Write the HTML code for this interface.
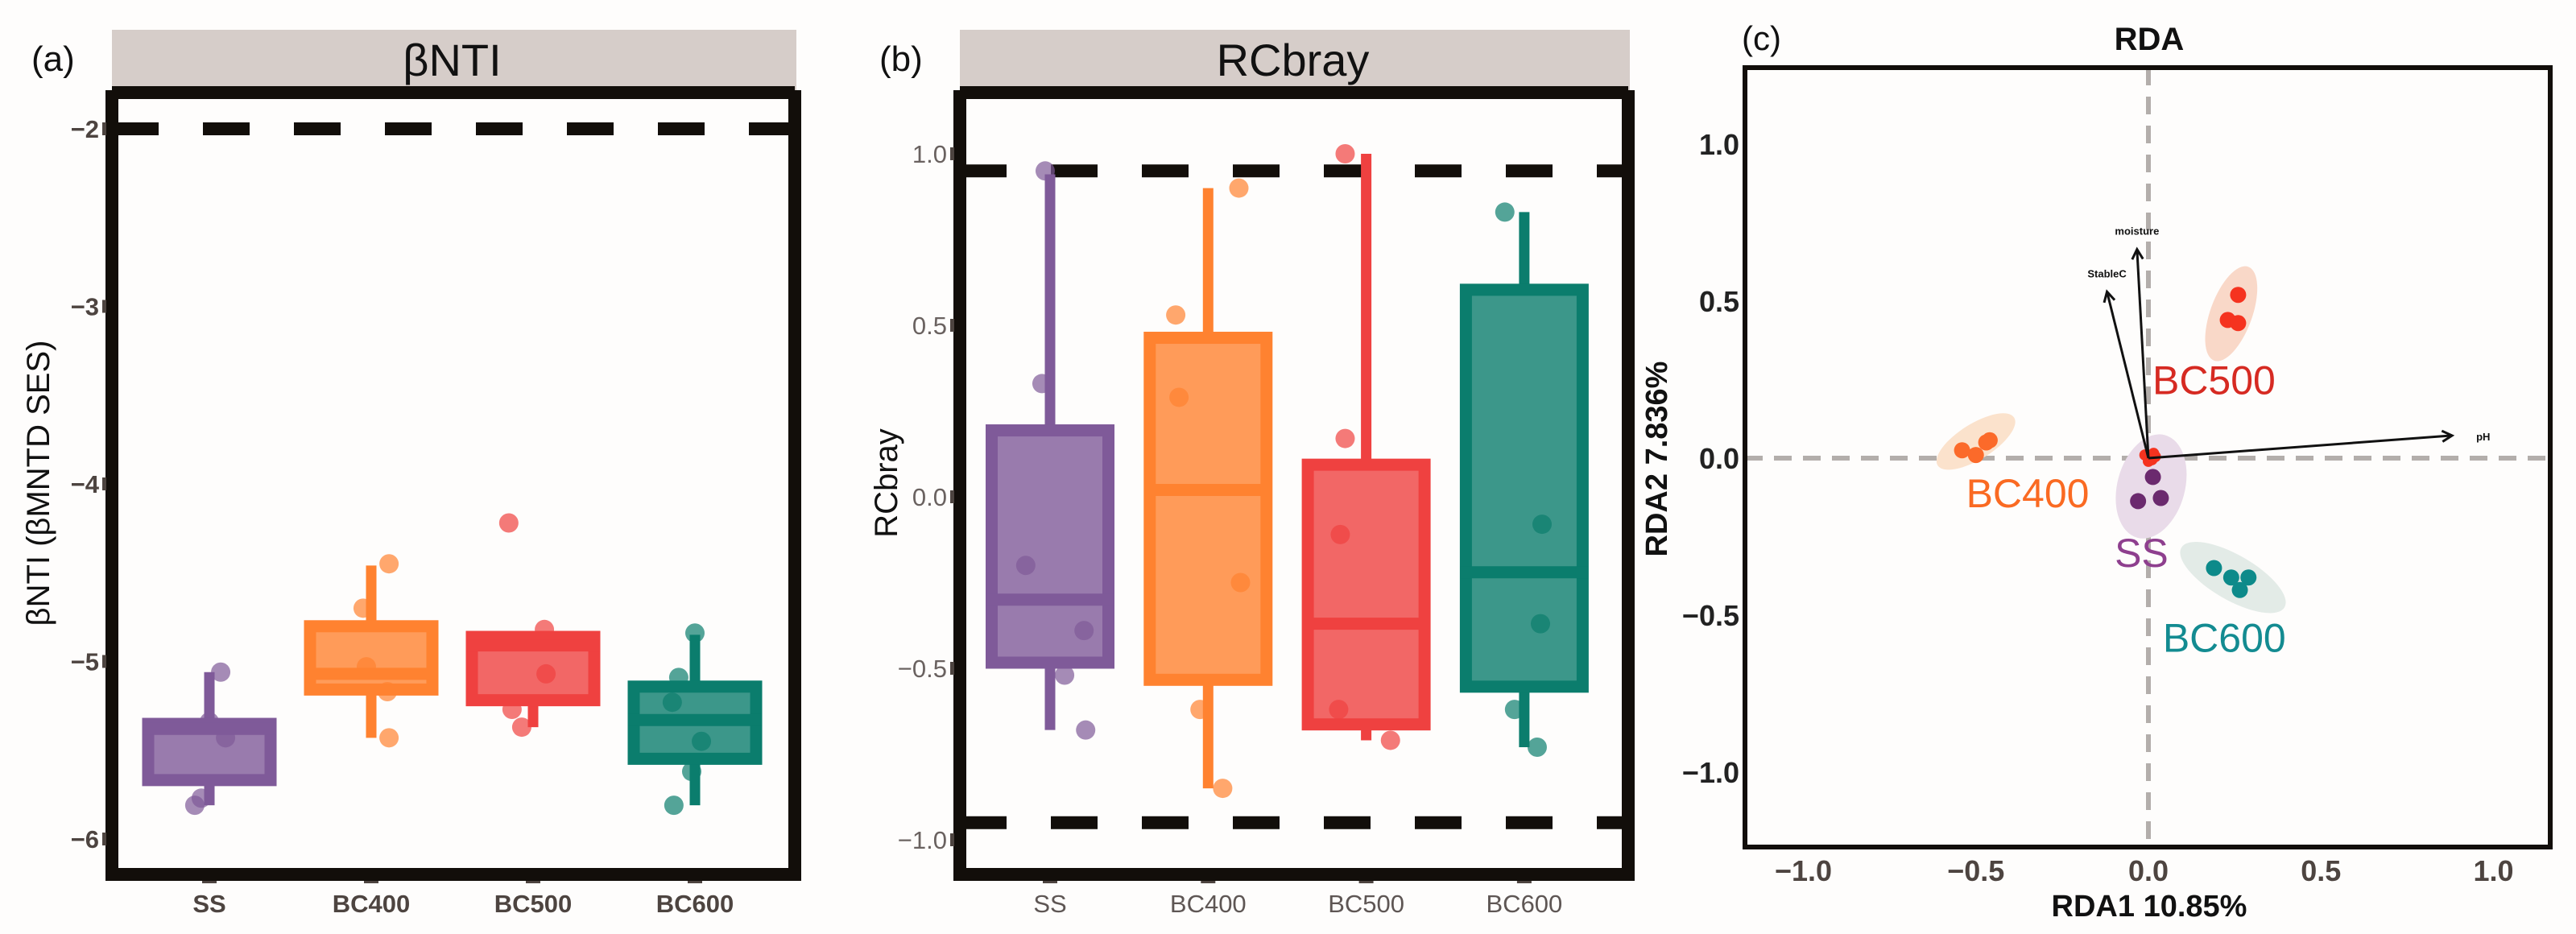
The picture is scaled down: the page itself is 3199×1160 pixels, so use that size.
<!DOCTYPE html>
<html><head><meta charset="utf-8"><style>
html,body{margin:0;padding:0;background:#fefdfc;}
svg{display:block;font-family:"Liberation Sans",Arial,sans-serif;}
</style></head><body>
<svg id="fig" width="3199" height="1160" viewBox="0 0 3199 1160" xmlns="http://www.w3.org/2000/svg">
<rect x="0" y="0" width="3199" height="1160" fill="#fefdfc"/>
<g id="pa"></g>
<g id="pb"></g>
<g id="pc"></g>
</svg>
<script>
// ---- Panel (a) data: betaNTI ----
const catsA = ["SS","BC400","BC500","BC600"];
const q1A = [-5.70,-5.19,-5.25,-5.58];
const medA = [-5.38,-5.07,-4.91,-5.33];
const q3A = [-5.32,-4.77,-4.83,-5.11];
const loA = [-5.81,-5.43,-5.37,-5.81];
const hiA = [-5.06,-4.46,-4.83,-4.85];
const ptsA = [[-5.06,-5.34,-5.43,-5.77,-5.81],[-4.45,-4.70,-5.03,-5.17,-5.43],[-4.22,-4.82,-5.07,-5.27,-5.37],[-4.84,-5.09,-5.23,-5.45,-5.62,-5.81]];
const jitA = [[0.07,0.0,0.1,-0.05,-0.09],[0.11,-0.05,-0.03,0.1,0.11],[-0.15,0.07,0.08,-0.13,-0.07],[0.0,-0.1,-0.14,0.04,-0.02,-0.13]];
const ticksA = [-2,-3,-4,-5,-6];
const tickLabA = ["\u22122","\u22123","\u22124","\u22125","\u22126"];
// ---- Panel (b) data: RCbray ----
const catsB = ["SS","BC400","BC500","BC600"];
const q1B = [-0.50,-0.55,-0.68,-0.57];
const medB = [-0.30,0.02,-0.37,-0.22];
const q3B = [0.21,0.48,0.11,0.62];
const loB = [-0.68,-0.85,-0.71,-0.73];
const hiB = [0.94,0.90,1.00,0.83];
const ptsB = [[0.95,0.33,-0.20,-0.39,-0.52,-0.68],[0.90,0.53,0.29,-0.25,-0.62,-0.85],[1.00,0.17,-0.11,-0.62,-0.71],[0.83,-0.08,-0.37,-0.62,-0.73]];
const jitB = [[-0.03,-0.05,-0.15,0.21,0.09,0.22],[0.19,-0.2,-0.18,0.2,-0.05,0.09],[-0.13,-0.13,-0.16,-0.17,0.15],[-0.12,0.11,0.1,-0.06,0.08]];
const ticksB = [1.0,0.5,0.0,-0.5,-1.0];
const tickLabB = ["1.0","0.5","0.0","\u22120.5","\u22121.0"];
// ---- Panel (c) data: RDA ----
const groupsC = ["BC500","BC400","SS","BC600"];
const ptsCx = [[0.26,0.23,0.26],[-0.54,-0.50,-0.46,-0.47],[0.013,-0.03,0.036],[0.19,0.24,0.29,0.265]];
const ptsCy = [[0.52,0.44,0.43],[0.025,0.01,0.057,0.05],[-0.06,-0.137,-0.127],[-0.35,-0.38,-0.38,-0.42]];
const ellCx = [0.24,-0.50,0.008,0.245];
const ellCy = [0.46,0.053,-0.09,-0.38];
const labCx = [0.19,-0.35,-0.02,0.22];
const labCy = [0.25,-0.11,-0.30,-0.57];
const envNames = ["moisture","StableC","pH"];
const envX = [-0.033,-0.12,0.88];
const envY = [0.665,0.53,0.072];
const ticksCx = [-1.0,-0.5,0.0,0.5,1.0];
const ticksCy = [1.0,0.5,0.0,-0.5,-1.0];
const tickLabC = ["\u22121.0","\u22120.5","0.0","0.5","1.0"];
const tickLabCy = ["1.0","0.5","0.0","\u22120.5","\u22121.0"];

const NS="http://www.w3.org/2000/svg";
function mk(tag,attrs,parent,text){const e=document.createElementNS(NS,tag);for(const k in attrs)e.setAttribute(k,attrs[k]);if(text!==undefined)e.textContent=text;parent.appendChild(e);return e;}
const cols=["#7f5a99","#ff8230","#ef4140","#0b7d6d"];
const colsC=["#f5331f","#fb6a2a","#6b2a6e","#0d8a8a"];
const ellFill=["#f9d8c8","#fbe2cc","#e9dbe9","#e3ebe7"];
const labCol=["#d62a22","#fa6a22","#8e3f8e","#138b91"];

function boxPanel(g,cats,q1,med,q3,lo,hi,pts,jit,ticks,tickLab,yf,x0,x1,catX,bw,bold,strip,ytitle,letter,dash){
  const st=mk('rect',{x:x0+8,y:37,width:x1-x0-11,height:75,fill:'#d6cdc9'},g);
  
  const stt=mk('text',{x:(x0+x1)/2,y:94,'text-anchor':'middle','font-size':56,fill:'#111'},g,strip);
  
  const lt=mk('text',{x:x0-92,y:88,'font-size':44,fill:'#111'},g,letter);
  
  dash.forEach(v=>{const d=mk('line',{x1:x0+8,x2:x1-6,y1:yf(v),y2:yf(v),stroke:'#120e0a','stroke-width':16,'stroke-dasharray':'58 55'},g);
    });
  cats.forEach((c,i)=>{pts[i].forEach((v,j)=>{const p=mk('circle',{cx:catX(i)+jit[i][j]*201,cy:yf(v),r:12,fill:cols[i],'fill-opacity':0.7},g);
    });});
  cats.forEach((c,i)=>{const cx=catX(i);
    const w1=mk('line',{x1:cx,x2:cx,y1:yf(hi[i]),y2:yf(q3[i]),stroke:cols[i],'stroke-width':13},g);
    
    const w2=mk('line',{x1:cx,x2:cx,y1:yf(q1[i]),y2:yf(lo[i]),stroke:cols[i],'stroke-width':13},g);
    
    const b=mk('rect',{x:cx-bw/2+7,y:yf(q3[i])+7,width:bw-14,height:yf(q1[i])-yf(q3[i])-14,fill:cols[i],'fill-opacity':0.8,stroke:cols[i],'stroke-width':15},g);
    
    const m=mk('line',{x1:cx-bw/2,x2:cx+bw/2,y1:yf(med[i]),y2:yf(med[i]),stroke:cols[i],'stroke-width':15},g);
    
    const tk=mk('rect',{x:cx-9,y:1092,width:18,height:5,fill:'#4d4440'},g);
    
    const tl=mk('text',{x:cx,y:1133,'text-anchor':'middle','font-size':31,fill:bold?'#4d4440':'#5e5654','font-weight':bold?'bold':'normal'},g,c);
    
  });
  const fr=mk('path',{d:`M${x0+8} 115 H${x1-5} M${x0+8} 112 V1086 H${x1-5} V112`,fill:'none',stroke:'#120e0a','stroke-width':16},g);
  
  mk('line',{x1:x0,x2:x1,y1:115,y2:115,stroke:'#120e0a','stroke-width':6},g);
  ticks.forEach((v,i)=>{const tk=mk('rect',{x:x0-4,y:yf(v)-8,width:5,height:16,fill:'#4d4440'},g);
    
    const tl=mk('text',{x:x0-8,y:yf(v)+11,'text-anchor':'end','font-size':31,fill:bold?'#4d4440':'#6a6260','font-weight':bold?'bold':'normal'},g,tickLab[i]);
    });
  const yt=mk('text',{x:0,y:0,'text-anchor':'middle','font-size':40,fill:'#111',transform:`translate(${x0-70},600) rotate(-90)`},g,ytitle);
  
}
const ya=v=>160+(-2-v)*220.5;
boxPanel(document.getElementById('pa'),catsA,q1A,medA,q3A,loA,hiA,ptsA,jitA,ticksA,tickLabA,ya,131,992,i=>260+i*201,166,true,"\u03B2NTI","\u03B2NTI (\u03B2MNTD SES)","(a)",[-2]);
const yb=v=>617-v*426;
boxPanel(document.getElementById('pb'),catsB,q1B,medB,q3B,loB,hiB,ptsB,jitB,ticksB,tickLabB,yb,1184,2027,i=>1304+i*196.3,159,false,"RCbray","RCbray","(b)",[0.95,-0.95]);

const gc=document.getElementById('pc');
const xc=v=>2668+v*428.5, yc=v=>569-v*390;
let e;
e=mk('text',{x:2669,y:62,'text-anchor':'middle','font-size':40,'font-weight':'bold',fill:'#111'},gc,"RDA");

e=mk('text',{x:2163,y:62,'font-size':42,fill:'#111'},gc,"(c)");

e=mk('line',{x1:xc(0),x2:xc(0),y1:84,y2:1052,stroke:'#b3aeab','stroke-width':6,'stroke-dasharray':'22 14'},gc);

e=mk('line',{x1:2167,x2:3167,y1:yc(0),y2:yc(0),stroke:'#b3aeab','stroke-width':6,'stroke-dasharray':'22 14'},gc);

const ellRx=[26,56,42,74], ellRy=[62,22,66,28], ellRot=[20,-32,15,30];
groupsC.forEach((g,i)=>{
  e=mk('ellipse',{cx:xc(ellCx[i]),cy:yc(ellCy[i]),rx:ellRx[i],ry:ellRy[i],fill:ellFill[i],transform:`rotate(${ellRot[i]} ${xc(ellCx[i])} ${yc(ellCy[i])})`},gc);
  
});
groupsC.forEach((g,i)=>{
  ptsCx[i].forEach((v,j)=>{e=mk('circle',{cx:xc(v),cy:yc(ptsCy[i][j]),r:10,fill:colsC[i]},gc);
    });
  e=mk('text',{x:xc(labCx[i]),y:yc(labCy[i])+18,'text-anchor':'middle','font-size':50,fill:labCol[i]},gc,g);
  
});
[[-0.01,0.01],[0.01,-0.005],[0.02,0.005],[0.0,-0.01],[0.015,0.015]].forEach(p=>{e=mk('circle',{cx:xc(p[0]),cy:yc(p[1]),r:7,fill:'#f5331f'},gc);
  });
envNames.forEach((n,i)=>{
  const x2=xc(envX[i]),y2=yc(envY[i]),x1=xc(0),y1=yc(0);
  const a=Math.atan2(y2-y1,x2-x1);
  e=mk('line',{x1:x1,y1:y1,x2:x2,y2:y2,stroke:'#111','stroke-width':3},gc);
  
  mk('path',{d:`M${x2-14*Math.cos(a-0.5)} ${y2-14*Math.sin(a-0.5)} L${x2} ${y2} L${x2-14*Math.cos(a+0.5)} ${y2-14*Math.sin(a+0.5)}`,fill:'none',stroke:'#111','stroke-width':3},gc);
  const tx=i==2?x2+30:x2, ty=i==2?y2+6:y2-18;
  e=mk('text',{x:tx,y:ty,'text-anchor':i==2?'start':'middle','font-size':13,'font-weight':'bold',fill:'#111'},gc,n);
  
});
e=mk('rect',{x:2167,y:84,width:1000,height:968,fill:'none',stroke:'#120e0a','stroke-width':6},gc);

ticksCx.forEach((v,i)=>{e=mk('text',{x:xc(v),y:1094,'text-anchor':'middle','font-size':36,'font-weight':'bold',fill:'#4d4440'},gc,tickLabC[i]);
  });
ticksCy.forEach((v,i)=>{e=mk('text',{x:2160,y:yc(v)+13,'text-anchor':'end','font-size':36,'font-weight':'bold',fill:'#222'},gc,tickLabCy[i]);
  });
e=mk('text',{x:2669,y:1138,'text-anchor':'middle','font-size':38,'font-weight':'bold',fill:'#111'},gc,"RDA1 10.85%");

e=mk('text',{x:0,y:0,'text-anchor':'middle','font-size':38,'font-weight':'bold',fill:'#111',transform:'translate(2070,570) rotate(-90)'},gc,"RDA2 7.836%");

</script>
</body></html>
